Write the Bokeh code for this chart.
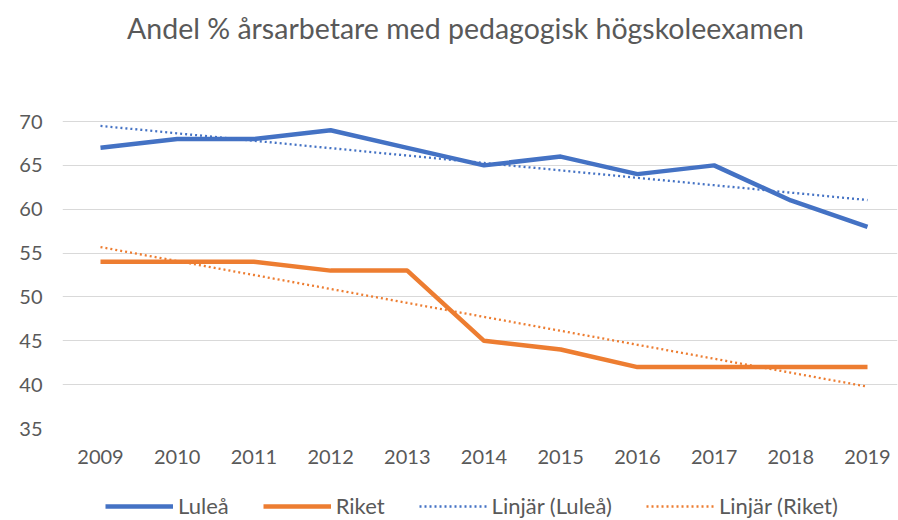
import numpy as np
from bokeh.plotting import figure
from bokeh.layouts import column
from bokeh.models import Legend, LegendItem, FixedTicker, Range1d, Label
from bokeh.embed import file_html
from bokeh.resources import INLINE

years = [2009, 2010, 2011, 2012, 2013, 2014, 2015, 2016, 2017, 2018, 2019]
lulea = [67, 68, 68, 69, 67, 65, 66, 64, 65, 61, 58]
riket = [54, 54, 54, 53, 53, 45, 44, 42, 42, 42, 42]
y_ticks = [35, 40, 45, 50, 55, 60, 65, 70]
title_text = "Andel % årsarbetare med pedagogisk högskoleexamen"
names = ["Luleå", "Riket", "Linjär (Luleå)", "Linjär (Riket)"]

x = np.array(years, dtype=float)
tl = np.polyval(np.polyfit(x, lulea, 1), x)
tr = np.polyval(np.polyfit(x, riket, 1), x)

FONT = "Lato"
GREY = "#595959"
BLUE = "#4472C4"
ORANGE = "#ED7D31"
styles = [dict(line_color=BLUE, line_width=4.5),
          dict(line_color=ORANGE, line_width=4.5),
          dict(line_color=BLUE, line_width=2.3, line_dash="2 3"),
          dict(line_color=ORANGE, line_width=2.3, line_dash="2 3")]
series = [lulea, riket, tl, tr]

p = figure(frame_width=835, frame_height=428, output_backend="svg", toolbar_location=None,
           x_range=Range1d(2008.5046, 2019.391), y_range=Range1d(35, 83.796),
           min_border_left=62, min_border_right=1, min_border_top=0,
           min_border_bottom=47)
p.outline_line_color = None

for s, st in zip(series, styles):
    p.line(x, s, **st)

p.xaxis.ticker = FixedTicker(ticks=years)
p.yaxis.ticker = FixedTicker(ticks=y_ticks)
for ax in (p.xaxis[0], p.yaxis[0]):
    ax.axis_line_color = None
    ax.major_tick_line_color = None
    ax.minor_tick_line_color = None
    ax.major_label_text_font = FONT
    ax.major_label_text_font_size = "20px"
    ax.major_label_text_color = GREY
p.xaxis.major_label_standoff = 15
p.yaxis.major_label_standoff = 14
p.xgrid.grid_line_color = None
p.ygrid.grid_line_color = "#D9D9D9"
p.ygrid.grid_line_width = 1

title = Label(x=403, y=401, x_units="screen", y_units="screen", text=title_text,
              text_align="center", text_baseline="alphabetic",
              text_font=FONT, text_font_size="28.5px", text_color=GREY)
p.add_layout(title)

# legend strip below the chart
p2 = figure(width=898, height=45, output_backend="svg", toolbar_location=None,
            x_range=Range1d(2008.5046, 2019.391), y_range=Range1d(0, 1),
            x_axis_type=None, y_axis_type=None,
            min_border_left=0, min_border_right=0, min_border_top=0,
            min_border_bottom=0)
p2.outline_line_color = None
p2.xgrid.grid_line_color = None
p2.ygrid.grid_line_color = None
items = []
for name, s, st in zip(names, series, styles):
    r = p2.line(x, s, **st)
    items.append(LegendItem(label=name, renderers=[r]))

legend = Legend(items=items, orientation="horizontal", location=(43, 1),
                label_text_font=FONT, label_text_font_size="22px",
                label_text_color=GREY, glyph_width=68, label_standoff=5,
                spacing=34, border_line_color=None, background_fill_alpha=0,
                padding=0, margin=0)
p2.add_layout(legend)

layout = column(p, p2, spacing=0)
open("out.html", "w").write(file_html(layout, INLINE))
